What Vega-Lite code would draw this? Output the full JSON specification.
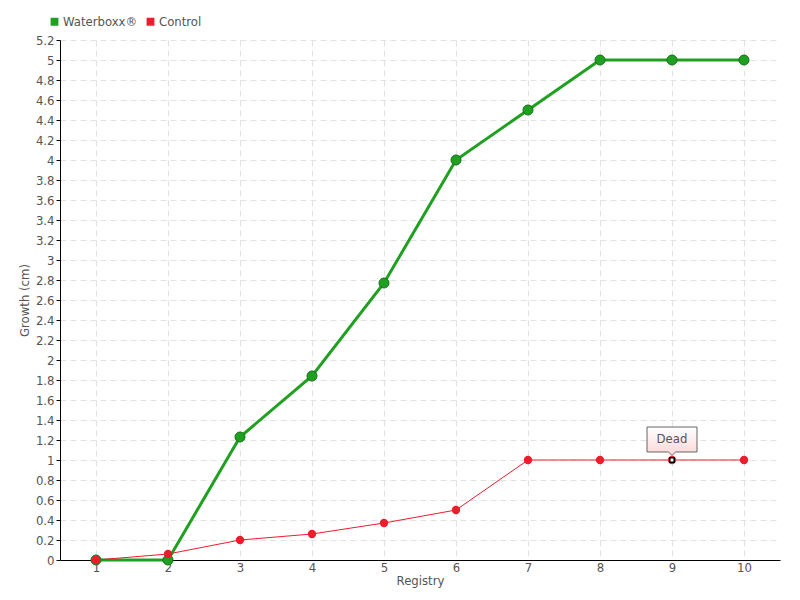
{
  "$schema": "https://vega.github.io/schema/vega-lite/v6.json",
  "width": 720,
  "height": 520,
  "autosize": "none",
  "padding": {"left": 60, "top": 40, "right": 20, "bottom": 40},
  "background": "white",
  "config": {
    "font": "DejaVu Sans Condensed",
    "view": {"stroke": null},
    "axis": {"labelColor": "#555", "titleColor": "#555", "labelFont": "DejaVu Sans Condensed", "titleFont": "DejaVu Sans Condensed", "titleFontWeight": "normal", "labelFontSize": 13, "titleFontSize": 13, "gridColor": "#e2e2e2", "gridDash": [6, 4], "domainColor": "#000", "tickColor": "#000"}
  },
  "datasets": {
    "growth": [
      {"Registry": 1, "Growth": 0, "Series": "Waterboxx®"},
      {"Registry": 2, "Growth": 0, "Series": "Waterboxx®"},
      {"Registry": 3, "Growth": 1.23, "Series": "Waterboxx®"},
      {"Registry": 4, "Growth": 1.84, "Series": "Waterboxx®"},
      {"Registry": 5, "Growth": 2.77, "Series": "Waterboxx®"},
      {"Registry": 6, "Growth": 4.0, "Series": "Waterboxx®"},
      {"Registry": 7, "Growth": 4.5, "Series": "Waterboxx®"},
      {"Registry": 8, "Growth": 5.0, "Series": "Waterboxx®"},
      {"Registry": 9, "Growth": 5.0, "Series": "Waterboxx®"},
      {"Registry": 10, "Growth": 5.0, "Series": "Waterboxx®"},
      {"Registry": 1, "Growth": 0, "Series": "Control"},
      {"Registry": 2, "Growth": 0.06, "Series": "Control"},
      {"Registry": 3, "Growth": 0.2, "Series": "Control"},
      {"Registry": 4, "Growth": 0.26, "Series": "Control"},
      {"Registry": 5, "Growth": 0.37, "Series": "Control"},
      {"Registry": 6, "Growth": 0.5, "Series": "Control"},
      {"Registry": 7, "Growth": 1.0, "Series": "Control"},
      {"Registry": 8, "Growth": 1.0, "Series": "Control"},
      {"Registry": 9, "Growth": 1.0, "Series": "Control"},
      {"Registry": 10, "Growth": 1.0, "Series": "Control"}
    ],
    "notes": [
      {"Registry": 9, "Growth": 1.0, "Note": "Dead"}
    ]
  },
  "encoding": {
    "x": {
      "field": "Registry", "type": "ordinal",
      "scale": {"type": "point", "padding": 0.5, "domain": [1,2,3,4,5,6,7,8,9,10]},
      "axis": {"title": "Registry", "labelAngle": 0, "grid": true, "ticks": false, "labelPadding": 1, "titlePadding": 0, "domainWidth": 1}
    },
    "y": {
      "field": "Growth", "type": "quantitative",
      "scale": {"domain": [0, 5.2], "nice": false, "zero": true},
      "axis": {"title": "Growth (cm)", "values": [0,0.2,0.4,0.6,0.8,1,1.2,1.4,1.6,1.8,2,2.2,2.4,2.6,2.8,3,3.2,3.4,3.6,3.8,4,4.2,4.4,4.6,4.8,5,5.2], "format": ".1~f", "tickSize": 4, "labelPadding": 2, "titlePadding": 4, "grid": true}
    }
  },
  "layer": [
    {
      "data": {"name": "growth"},
      "transform": [{"filter": "datum.Series === 'Waterboxx®'"}],
      "mark": {"type": "line", "strokeWidth": 3},
      "encoding": {
        "color": {"field": "Series", "type": "nominal", "scale": {"domain": ["Waterboxx®", "Control"], "range": ["#20a020", "#ee1c2c"]},
          "legend": {"title": null, "orient": "none", "direction": "horizontal", "legendX": -12, "legendY": -25, "symbolType": "square", "symbolSize": 40, "labelFontSize": 13, "labelColor": "#555", "labelFont": "DejaVu Sans Condensed", "symbolOffset": 0, "columnPadding": 6, "labelOffset": 2}}
      }
    },
    {
      "data": {"name": "growth"},
      "transform": [{"filter": "datum.Series === 'Waterboxx®'"}],
      "mark": {"type": "point", "filled": true, "size": 100, "stroke": "#17701a", "strokeWidth": 1, "opacity": 1},
      "encoding": {"color": {"field": "Series", "type": "nominal"}}
    },
    {
      "data": {"name": "growth"},
      "transform": [{"filter": "datum.Series === 'Control'"}],
      "mark": {"type": "line", "strokeWidth": 1},
      "encoding": {"color": {"field": "Series", "type": "nominal"}}
    },
    {
      "data": {"name": "growth"},
      "transform": [{"filter": "datum.Series === 'Control'"}],
      "mark": {"type": "point", "filled": true, "size": 70, "opacity": 1},
      "encoding": {"color": {"field": "Series", "type": "nominal"}}
    },
    {
      "data": {"name": "notes"},
      "mark": {"type": "point", "shape": "square", "filled": true, "fill": "white", "stroke": "black", "strokeWidth": 1.5, "size": 20, "opacity": 1},
      "encoding": {}
    },
    {
      "data": {"name": "notes"},
      "mark": {"type": "point", "shape": "M-1,-1.32H1V-0.32H0.14L0,-0.18L-0.14,-0.32H-1Z", "size": 2500, "filled": true, "opacity": 1,
        "fill": {"gradient": "linear", "x1": 0, "y1": 0, "x2": 0, "y2": 1, "stops": [{"offset": 0, "color": "#ffffff"}, {"offset": 1, "color": "#fbd6d6"}]},
        "stroke": "#666", "strokeWidth": 1},
      "encoding": {}
    },
    {
      "data": {"name": "notes"},
      "mark": {"type": "text", "dy": -21, "fontSize": 13, "color": "#555", "font": "DejaVu Sans Condensed", "baseline": "middle"},
      "encoding": {"text": {"field": "Note"}}
    }
  ]
}
